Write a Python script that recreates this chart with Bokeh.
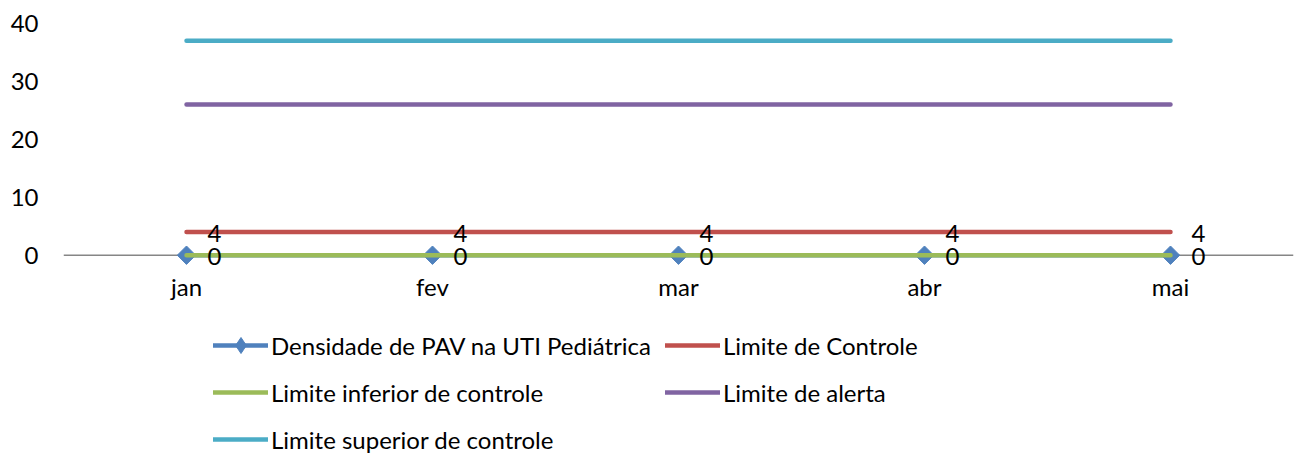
import math
from bokeh.plotting import figure
from bokeh.layouts import column
from bokeh.models import (ColumnDataSource, Range1d, FixedTicker, Span, Legend,
                          LegendItem, LabelSet)
from bokeh.core.properties import value
from bokeh.embed import file_html
from bokeh.resources import INLINE

# ---- data ----
months = ["jan", "fev", "mar", "abr", "mai"]
densidade = [0, 0, 0, 0, 0]
limite_controle = [4, 4, 4, 4, 4]
limite_inferior = [0, 0, 0, 0, 0]
limite_alerta = [26, 26, 26, 26, 26]
limite_superior = [37, 37, 37, 37, 37]
y_ticks = [0, 10, 20, 30, 40]
series_names = ["Densidade de PAV na UTI Pediátrica", "Limite de Controle",
                "Limite inferior de controle", "Limite de alerta",
                "Limite superior de controle"]

FONT = "Lato"
FS = "24px"
BLUE, RED, GREEN, PURPLE, CYAN = "#4F81BD", "#C0504D", "#9BBB59", "#8064A2", "#4BACC6"
lw = 4.5

src = ColumnDataSource(dict(
    x=months, dens=densidade, ctrl=limite_controle, inf=limite_inferior,
    alert=limite_alerta, sup=limite_superior,
    dens_t=[str(v) for v in densidade], ctrl_t=[str(v) for v in limite_controle]))


def draw_series(fig, legend_style=False):
    r = {}
    r["bl"] = fig.line("x", "dens", source=src, line_color=BLUE, line_width=lw, line_cap="round")
    if legend_style:
        r["bp"] = fig.scatter("x", "dens", source=src, marker="diamond", size=19,
                              fill_color=BLUE, line_color=BLUE)
    else:
        r["bp"] = fig.scatter("x", "dens", source=src, marker="square", angle=math.pi / 4,
                              size=13, fill_color=BLUE, line_color=BLUE)
    r["red"] = fig.line("x", "ctrl", source=src, line_color=RED, line_width=lw, line_cap="round")
    r["grn"] = fig.line("x", "inf", source=src, line_color=GREEN, line_width=lw, line_cap="round")
    r["pur"] = fig.line("x", "alert", source=src, line_color=PURPLE, line_width=lw, line_cap="round")
    r["cyn"] = fig.line("x", "sup", source=src, line_color=CYAN, line_width=lw, line_cap="round")
    return r


p = figure(x_range=months, y_range=Range1d(-3.5, 41),
           frame_width=1230, frame_height=258,
           min_border_left=63, min_border_right=5, min_border_top=17, min_border_bottom=35,
           output_backend="svg", toolbar_location=None)
p.outline_line_color = None
p.xgrid.visible = False
p.ygrid.visible = False

for ax in (p.xaxis, p.yaxis):
    ax.axis_line_color = None
    ax.major_tick_line_color = None
    ax.minor_tick_line_color = None
    ax.major_tick_out = 0
    ax.major_tick_in = 0
    ax.minor_tick_out = 0
    ax.minor_tick_in = 0
    ax.major_label_text_font = FONT
    ax.major_label_text_font_size = FS
    ax.major_label_text_color = "black"
p.yaxis.ticker = FixedTicker(ticks=y_ticks)
p.yaxis.major_label_standoff = 25
p.xaxis.major_label_standoff = -4

p.add_layout(Span(location=0, dimension="width", line_color="#868686",
                  line_width=1.5, level="underlay"))

draw_series(p)

for ycol, tcol in (("ctrl", "ctrl_t"), ("dens", "dens_t")):
    p.add_layout(LabelSet(x="x", y=ycol, text=tcol, source=src, x_offset=28, y_offset=-1,
                          text_align="center", text_baseline="middle",
                          text_font=value(FONT), text_font_size=FS, text_color="black"))

# ---- legend panel: same series, drawn out of its visible range, only the legend shows ----
q = figure(width=1298, height=145, x_range=months, y_range=Range1d(100, 101),
           min_border=0, x_axis_location=None, y_axis_location=None,
           output_backend="svg", toolbar_location=None)
q.grid.visible = False
q.outline_line_color = None
k = draw_series(q, legend_style=True)

leg_kw = dict(glyph_width=55, glyph_height=40, label_height=40, label_standoff=3,
              spacing=7, padding=0, margin=0, border_line_color=None,
              background_fill_alpha=0, label_text_font=FONT, label_text_font_size=FS,
              label_text_color="black")
leg1 = Legend(items=[
    LegendItem(label=series_names[0], renderers=[k["bl"], k["bp"]]),
    LegendItem(label=series_names[2], renderers=[k["grn"]]),
    LegendItem(label=series_names[4], renderers=[k["cyn"]]),
], location=(150, -4), **leg_kw)
leg2 = Legend(items=[
    LegendItem(label=series_names[1], renderers=[k["red"]]),
    LegendItem(label=series_names[3], renderers=[k["pur"]]),
], location=(602, 43), **leg_kw)
q.add_layout(leg1)
q.add_layout(leg2)

layout = column(p, q, spacing=0)
open("out.html", "w").write(file_html(layout, INLINE))
